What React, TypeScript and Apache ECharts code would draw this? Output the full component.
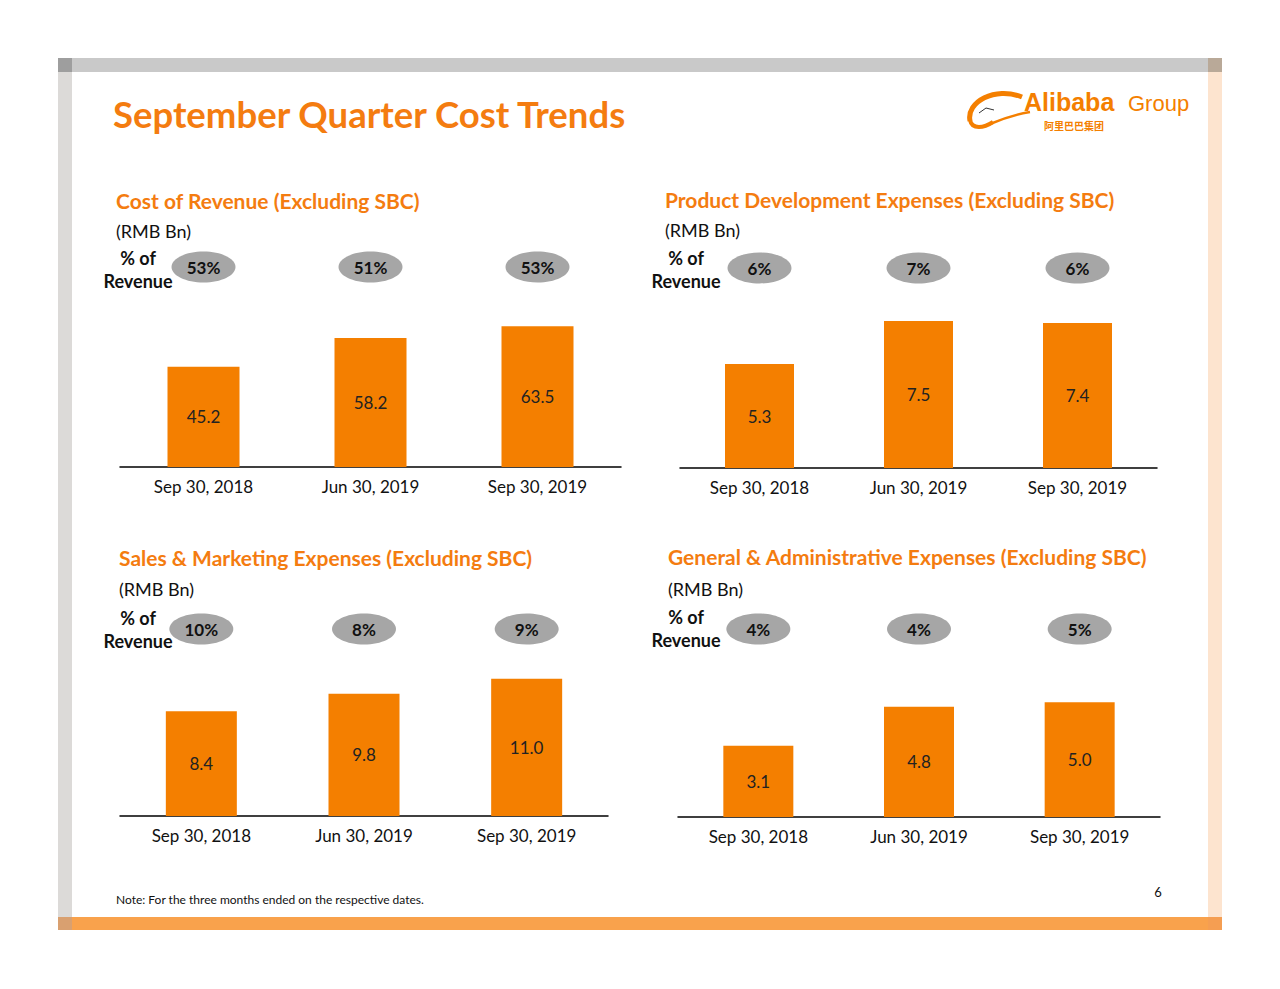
import React, { useEffect, useRef } from "react";
import * as echarts from "echarts";

// ---------- data ----------
const categories = ["Sep 30, 2018", "Jun 30, 2019", "Sep 30, 2019"];

const costOfRevenue = [45.2, 58.2, 63.5];
const productDevelopment = [5.3, 7.5, 7.4];
const salesMarketing = [8.4, 9.8, 11.0];
const generalAdmin = [3.1, 4.8, 5.0];

const costOfRevenuePct = ["53%", "51%", "53%"];
const productDevelopmentPct = ["6%", "7%", "6%"];
const salesMarketingPct = ["10%", "8%", "9%"];
const generalAdminPct = ["4%", "4%", "5%"];

const panelTitles = [
  "Cost of Revenue (Excluding SBC)",
  "Product Development Expenses (Excluding SBC)",
  "Sales & Marketing Expenses (Excluding SBC)",
  "General & Administrative Expenses (Excluding SBC)",
];
const mainTitle = "September Quarter Cost Trends";
const unitLabel = "(RMB Bn)";
const pctLabel1 = "% of";
const pctLabel2 = "Revenue";
const noteText = "Note: For the three months ended on the respective dates.";
const pageNumber = "6";
const logoText1 = "Alibaba";
const logoText2 = "Group";
const logoTextCn = "阿里巴巴集团";

// ---------- layout / style ----------
const FONT = "Lato, 'Open Sans', sans-serif";
const ORANGE = "#f47f00";
const TITLE_ORANGE = "#f47c10";

const panels = [
  {
    title: panelTitles[0], values: costOfRevenue, pct: costOfRevenuePct,
    grid: { left: 120, top: 310, width: 501, height: 157 }, max: 70.8, barWidth: 72,
    titleXY: [116, 200], unitXY: [116, 231], pctLabelXY: [138, 258], pctRowY: 267,
  },
  {
    title: panelTitles[1], values: productDevelopment, pct: productDevelopmentPct,
    grid: { left: 680, top: 310, width: 477, height: 158 }, max: 8.06, barWidth: 69,
    titleXY: [665, 199], unitXY: [665, 230], pctLabelXY: [686, 258], pctRowY: 268,
  },
  {
    title: panelTitles[2], values: salesMarketing, pct: salesMarketingPct,
    grid: { left: 120, top: 660, width: 488, height: 156 }, max: 12.5, barWidth: 71,
    titleXY: [119, 557], unitXY: [119, 589], pctLabelXY: [138, 618], pctRowY: 629,
  },
  {
    title: panelTitles[3], values: generalAdmin, pct: generalAdminPct,
    grid: { left: 678, top: 660, width: 482, height: 157 }, max: 6.84, barWidth: 70,
    titleXY: [668, 556], unitXY: [668, 589], pctLabelXY: [686, 617], pctRowY: 629,
  },
];

export default function App() {
  const ref = useRef<HTMLDivElement>(null);

  useEffect(() => {
    if (!ref.current) return;
    const chart = echarts.init(ref.current, null, { renderer: "svg" });

    const option: any = {
      animation: false,
      backgroundColor: "#ffffff",
      grid: panels.map((p) => ({ ...p.grid, containLabel: false })),
      xAxis: panels.map((p, i) => ({
        type: "category",
        gridIndex: i,
        data: categories,
        axisTick: { show: false },
        axisLine: { lineStyle: { color: "#000", width: 1.5 } },
        axisLabel: { fontSize: 17, color: "#111", margin: 11, fontFamily: FONT },
      })),
      yAxis: panels.map((p, i) => ({
        type: "value",
        gridIndex: i,
        min: 0,
        max: p.max,
        show: false,
        splitLine: { show: false },
      })),
      series: panels.map((p, i) => ({
        type: "bar",
        xAxisIndex: i,
        yAxisIndex: i,
        data: p.values,
        barWidth: p.barWidth,
        itemStyle: { color: ORANGE },
        label: {
          show: true,
          position: "inside",
          formatter: (d: any) => Number(d.value).toFixed(1),
          fontSize: 17,
          color: "#222",
          fontFamily: FONT,
        },
      })),
    };
    chart.setOption(option);

    const els: any[] = [];
    // frame
    els.push({ type: "rect", shape: { x: 58, y: 58, width: 1164, height: 14 }, style: { fill: "#c9c9c9" } });
    els.push({ type: "rect", shape: { x: 58, y: 58, width: 14, height: 14 }, style: { fill: "#9e9e9e" } });
    els.push({ type: "rect", shape: { x: 1208, y: 58, width: 14, height: 14 }, style: { fill: "#b9a998" } });
    els.push({ type: "rect", shape: { x: 58, y: 72, width: 14, height: 845 }, style: { fill: "#dcdad8" } });
    els.push({ type: "rect", shape: { x: 1208, y: 72, width: 14, height: 845 }, style: { fill: "#fde4cf" } });
    els.push({ type: "rect", shape: { x: 72, y: 917, width: 1136, height: 13 }, style: { fill: "#f9a24c" } });
    els.push({ type: "rect", shape: { x: 58, y: 917, width: 14, height: 13 }, style: { fill: "#d9a070" } });
    els.push({ type: "rect", shape: { x: 1208, y: 917, width: 14, height: 13 }, style: { fill: "#f59e52" } });

    // main title
    els.push({
      type: "text", x: 113, y: 114,
      style: { text: mainTitle, font: `bold 36.5px ${FONT}`, fill: TITLE_ORANGE, textAlign: "left", textVerticalAlign: "middle" },
    });

    // logo
    els.push({ type: "bezierCurve", shape: { x1: 1022, y1: 97, cpx1: 995, cpy1: 86, cpx2: 966, cpy2: 102, x2: 970, y2: 121 }, style: { stroke: ORANGE, lineWidth: 5, fill: null } });
    els.push({ type: "bezierCurve", shape: { x1: 970, y1: 120, cpx1: 972, cpy1: 130, cpx2: 984, cpy2: 128, x2: 993, y2: 122 }, style: { stroke: ORANGE, lineWidth: 4, fill: null } });
    els.push({ type: "bezierCurve", shape: { x1: 990, y1: 124, cpx1: 1004, cpy1: 118, cpx2: 1017, cpy2: 114, x2: 1030, y2: 112 }, style: { stroke: ORANGE, lineWidth: 2.5, fill: null } });
    els.push({ type: "polyline", shape: { points: [[979, 113], [986, 108], [994, 110]] }, style: { stroke: "#333", lineWidth: 1, fill: null } });
    els.push({
      type: "text", x: 1024, y: 102,
      style: { text: logoText1, font: "bold 25px 'Liberation Sans', Arial, sans-serif", fill: ORANGE, textAlign: "left", textVerticalAlign: "middle" },
    });
    els.push({
      type: "text", x: 1128, y: 103,
      style: { text: logoText2, font: "22px 'Liberation Sans', Arial, sans-serif", fill: ORANGE, textAlign: "left", textVerticalAlign: "middle" },
    });
    els.push({
      type: "text", x: 1044, y: 125,
      style: { text: logoTextCn, font: "bold 10px 'Noto Sans CJK SC', sans-serif", fill: ORANGE, textAlign: "left", textVerticalAlign: "middle" },
    });

    // panels
    panels.forEach((p, i) => {
      els.push({
        type: "text", x: p.titleXY[0], y: p.titleXY[1],
        style: { text: p.title, font: `bold 21px ${FONT}`, fill: TITLE_ORANGE, textAlign: "left", textVerticalAlign: "middle" },
      });
      els.push({
        type: "text", x: p.unitXY[0], y: p.unitXY[1],
        style: { text: unitLabel, font: `18px ${FONT}`, fill: "#111", textAlign: "left", textVerticalAlign: "middle" },
      });
      els.push({
        type: "text", x: p.pctLabelXY[0], y: p.pctLabelXY[1],
        style: { text: pctLabel1, font: `bold 18px ${FONT}`, fill: "#111", textAlign: "center", textVerticalAlign: "middle" },
      });
      els.push({
        type: "text", x: p.pctLabelXY[0], y: p.pctLabelXY[1] + 23,
        style: { text: pctLabel2, font: `bold 18px ${FONT}`, fill: "#111", textAlign: "center", textVerticalAlign: "middle" },
      });
      categories.forEach((c, j) => {
        const cx = chart.convertToPixel({ xAxisIndex: i } as any, c) as unknown as number;
        const cy = p.pctRowY;
        els.push({ type: "ellipse", shape: { cx, cy, rx: 32, ry: 15.5 }, style: { fill: "#a6a6a6" } });
        els.push({
          type: "text", x: cx, y: cy,
          style: { text: p.pct[j], font: `bold 17px ${FONT}`, fill: "#111", textAlign: "center", textVerticalAlign: "middle" },
        });
      });
    });

    // footnote and page number
    els.push({
      type: "text", x: 116, y: 899,
      style: { text: noteText, font: `12px ${FONT}`, fill: "#111", textAlign: "left", textVerticalAlign: "middle" },
    });
    els.push({
      type: "text", x: 1158, y: 892,
      style: { text: pageNumber, font: `13px ${FONT}`, fill: "#111", textAlign: "center", textVerticalAlign: "middle" },
    });

    chart.setOption({ graphic: { elements: els } });

    return () => chart.dispose();
  }, []);

  return (
    <div
      ref={ref}
      style={{ position: "absolute", left: 0, top: 0, width: 1280, height: 989, background: "#fff" }}
    />
  );
}
